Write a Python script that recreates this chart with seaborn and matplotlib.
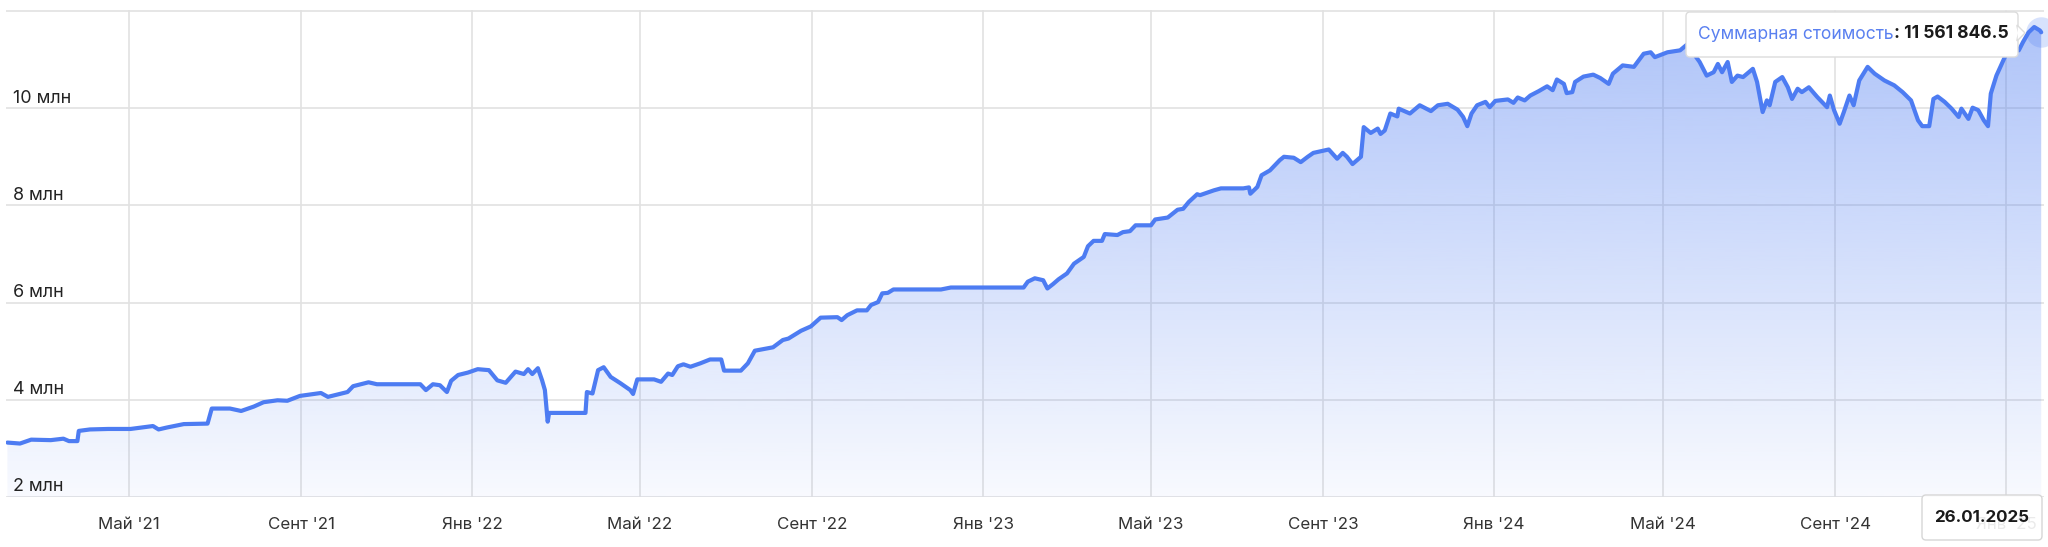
import matplotlib
matplotlib.use("Agg")
import matplotlib.pyplot as plt
import matplotlib.dates as mdates
import matplotlib.colors as mcolors
import matplotlib.transforms as mtransforms
from matplotlib.patches import FancyBboxPatch, Polygon
import numpy as np
import pandas as pd
import seaborn as sns

# -----------------------------------
# Data (million RUB)
# -----------------------------------
dates = [
    "2021-02-03", "2021-02-12", "2021-02-20", "2021-03-06", "2021-03-15", "2021-03-19",
    "2021-03-25", "2021-03-26", "2021-04-03", "2021-04-16", "2021-05-02", "2021-05-18",
    "2021-05-22", "2021-05-28", "2021-06-09", "2021-06-26", "2021-06-29", "2021-07-12",
    "2021-07-20", "2021-07-29", "2021-08-05", "2021-08-15", "2021-08-22", "2021-08-31",
    "2021-09-15", "2021-09-20", "2021-10-04", "2021-10-08", "2021-10-19", "2021-10-25",
    "2021-11-11", "2021-11-25", "2021-11-29", "2021-12-04", "2021-12-09", "2021-12-14",
    "2021-12-17", "2021-12-22", "2021-12-29", "2022-01-05", "2022-01-13", "2022-01-19",
    "2022-01-25", "2022-02-01", "2022-02-07", "2022-02-10", "2022-02-13", "2022-02-17",
    "2022-02-20", "2022-02-22", "2022-02-24", "2022-02-25", "2022-03-23", "2022-03-24",
    "2022-03-28", "2022-04-01", "2022-04-05", "2022-04-10", "2022-04-17", "2022-04-24",
    "2022-04-26", "2022-04-29", "2022-05-11", "2022-05-16", "2022-05-21", "2022-05-24",
    "2022-05-28", "2022-06-01", "2022-06-06", "2022-06-13", "2022-06-20", "2022-06-28",
    "2022-06-30", "2022-07-12", "2022-07-17", "2022-07-22", "2022-07-31", "2022-08-04",
    "2022-08-11", "2022-08-15", "2022-08-24", "2022-08-31", "2022-09-07", "2022-09-19",
    "2022-09-22", "2022-09-26", "2022-10-03", "2022-10-10", "2022-10-13", "2022-10-18",
    "2022-10-21", "2022-10-25", "2022-10-29", "2022-12-02", "2022-12-09", "2023-01-30",
    "2023-02-02", "2023-02-07", "2023-02-13", "2023-02-16", "2023-02-20", "2023-02-24",
    "2023-03-02", "2023-03-07", "2023-03-14", "2023-03-17", "2023-03-21", "2023-03-27",
    "2023-03-29", "2023-04-07", "2023-04-11", "2023-04-16", "2023-04-20", "2023-05-01",
    "2023-05-04", "2023-05-13", "2023-05-20", "2023-05-24", "2023-05-28", "2023-06-03",
    "2023-06-05", "2023-06-15", "2023-06-20", "2023-07-06", "2023-07-10", "2023-07-11",
    "2023-07-16", "2023-07-19", "2023-07-25", "2023-08-01", "2023-08-04", "2023-08-11",
    "2023-08-16", "2023-08-21", "2023-08-25", "2023-09-05", "2023-09-11", "2023-09-15",
    "2023-09-18", "2023-09-22", "2023-09-28", "2023-09-30", "2023-10-05", "2023-10-10",
    "2023-10-12", "2023-10-15", "2023-10-19", "2023-10-24", "2023-10-25", "2023-11-02",
    "2023-11-09", "2023-11-17", "2023-11-22", "2023-11-29", "2023-12-06", "2023-12-10",
    "2023-12-13", "2023-12-16", "2023-12-20", "2023-12-26", "2023-12-29", "2024-01-02",
    "2024-01-11", "2024-01-15", "2024-01-18", "2024-01-23", "2024-01-27", "2024-02-02",
    "2024-02-08", "2024-02-12", "2024-02-15", "2024-02-20", "2024-02-22", "2024-02-26",
    "2024-02-28", "2024-03-05", "2024-03-12", "2024-03-17", "2024-03-23", "2024-03-26",
    "2024-04-02", "2024-04-10", "2024-04-17", "2024-04-22", "2024-04-25", "2024-05-04",
    "2024-05-13", "2024-05-18", "2024-05-22", "2024-05-27", "2024-06-01", "2024-06-06",
    "2024-06-09", "2024-06-12", "2024-06-16", "2024-06-19", "2024-06-23", "2024-06-27",
    "2024-07-04", "2024-07-07", "2024-07-11", "2024-07-14", "2024-07-16", "2024-07-20",
    "2024-07-25", "2024-07-29", "2024-08-01", "2024-08-05", "2024-08-08", "2024-08-13",
    "2024-08-19", "2024-08-26", "2024-08-28", "2024-08-31", "2024-09-04", "2024-09-07",
    "2024-09-11", "2024-09-14", "2024-09-18", "2024-09-24", "2024-09-29", "2024-10-06",
    "2024-10-13", "2024-10-19", "2024-10-25", "2024-10-30", "2024-11-02", "2024-11-07",
    "2024-11-10", "2024-11-13", "2024-11-18", "2024-11-23", "2024-11-28", "2024-11-30",
    "2024-12-05", "2024-12-08", "2024-12-12", "2024-12-16", "2024-12-19", "2024-12-21",
    "2024-12-25", "2024-12-31", "2025-01-03", "2025-01-10", "2025-01-13", "2025-01-17",
    "2025-01-21", "2025-01-25", "2025-01-26",
]
values_mln = [
    3.12, 3.10, 3.18, 3.17, 3.20, 3.15,
    3.15, 3.36, 3.39, 3.40, 3.40, 3.46,
    3.39, 3.43, 3.50, 3.51, 3.82, 3.82,
    3.77, 3.86, 3.95, 3.99, 3.98, 4.08,
    4.14, 4.06, 4.16, 4.28, 4.36, 4.32,
    4.32, 4.32, 4.20, 4.32, 4.30, 4.16,
    4.39, 4.51, 4.56, 4.63, 4.61, 4.40,
    4.35, 4.58, 4.53, 4.63, 4.53, 4.65,
    4.40, 4.20, 3.55, 3.73, 3.73, 4.16,
    4.13, 4.61, 4.67, 4.47, 4.34, 4.20,
    4.12, 4.42, 4.42, 4.37, 4.54, 4.51,
    4.69, 4.73, 4.68, 4.75, 4.83, 4.83,
    4.60, 4.60, 4.75, 5.01, 5.06, 5.08,
    5.23, 5.26, 5.42, 5.51, 5.69, 5.70,
    5.64, 5.74, 5.84, 5.84, 5.95, 6.01,
    6.19, 6.20, 6.27, 6.27, 6.31, 6.31,
    6.43, 6.50, 6.46, 6.29, 6.38, 6.48,
    6.60, 6.80, 6.94, 7.16, 7.27, 7.27,
    7.41, 7.39, 7.45, 7.47, 7.59, 7.59,
    7.71, 7.75, 7.91, 7.93, 8.07, 8.23,
    8.21, 8.31, 8.35, 8.35, 8.37, 8.24,
    8.38, 8.62, 8.72, 8.93, 9.00, 8.98,
    8.89, 9.00, 9.08, 9.15, 8.96, 9.08,
    9.00, 8.85, 9.00, 9.61, 9.49, 9.58,
    9.47, 9.54, 9.89, 9.83, 9.99, 9.89,
    10.06, 9.94, 10.06, 10.09, 9.97, 9.82,
    9.63, 9.89, 10.06, 10.13, 10.02, 10.15,
    10.18, 10.11, 10.22, 10.16, 10.26, 10.35,
    10.45, 10.37, 10.59, 10.50, 10.31, 10.33,
    10.54, 10.65, 10.69, 10.62, 10.50, 10.71,
    10.88, 10.85, 11.12, 11.15, 11.05, 11.15,
    11.19, 11.31, 11.15, 10.95, 10.67, 10.74,
    10.91, 10.74, 10.95, 10.54, 10.67, 10.64,
    10.81, 10.54, 9.92, 10.16, 10.06, 10.54,
    10.64, 10.43, 10.19, 10.40, 10.33, 10.43,
    10.23, 10.02, 10.26, 9.96, 9.68, 9.92,
    10.26, 10.06, 10.57, 10.85, 10.71, 10.57,
    10.47, 10.33, 10.16, 9.75, 9.63, 9.63,
    10.19, 10.24, 10.13, 9.99, 9.82, 9.99,
    9.78, 10.01, 9.96, 9.75, 9.63, 10.30,
    10.67, 11.05, 11.22, 11.19, 11.36, 11.56,
    11.67, 11.60, 11.5618465,
]

tick_dates = [
    "2021-05-01", "2021-09-01", "2022-01-01", "2022-05-01", "2022-09-01", "2023-01-01",
    "2023-05-01", "2023-09-01", "2024-01-01", "2024-05-01", "2024-09-01", "2025-01-01",
]
tick_labels = [
    "Май '21", "Сент '21", "Янв '22", "Май '22", "Сент '22", "Янв '23",
    "Май '23", "Сент '23", "Янв '24", "Май '24", "Сент '24", "Янв '25",
]
y_ticks = [2, 4, 6, 8, 10, 12]
y_tick_labels = ["2 млн", "4 млн", "6 млн", "8 млн", "10 млн", ""]

tooltip_name = "Суммарная стоимость"
tooltip_value = "11 561 846.5"
hover_date_label = "26.01.2025"

df = pd.DataFrame({"date": pd.to_datetime(dates), "value": values_mln})

# -----------------------------------
# Style
# -----------------------------------
sns.set_theme(style="white")
plt.rcParams["font.family"] = ["Inter", "DejaVu Sans"]

LINE = "#4d7cf2"
GRID = "#e2e2e2"
W, H = 2048, 547

fig = plt.figure(figsize=(W / 100, H / 100), dpi=100)
ax = fig.add_axes([6 / W, 1 - 497 / H, (2044 - 6) / W, (497 - 10) / H])

# -----------------------------------
# Line + gradient area
# -----------------------------------
sns.lineplot(data=df, x="date", y="value", ax=ax, color=LINE, lw=3.0, zorder=3)

y_lo, y_hi = 2, 12.02
x0 = mdates.date2num(df["date"].iloc[0] - pd.Timedelta(days=1))
x1 = mdates.date2num(df["date"].iloc[-1] + pd.Timedelta(days=2))

area = ax.fill_between(df["date"], df["value"], y_lo, color="none", lw=0)
grad = np.zeros((256, 1, 4))
grad[..., :3] = mcolors.to_rgb(LINE)
grad[..., 3] = np.linspace(0.46, 0.04, 256)[:, None]
img = ax.imshow(grad, aspect="auto", extent=[x0, x1, y_lo, y_hi],
                origin="upper", zorder=1, interpolation="bicubic")
img.set_clip_path(area.get_paths()[0], ax.transData)

# hover halo on last point
ax.scatter(df["date"].iloc[-1], df["value"].iloc[-1], s=480, color=LINE,
           alpha=0.22, lw=0, zorder=4, clip_on=False)

ax.set_xlim(x0, x1)
ax.set_ylim(y_lo, y_hi)

# -----------------------------------
# Axes, grid, ticks
# -----------------------------------
for s in ax.spines.values():
    s.set_visible(False)

ax.set_xticks(pd.to_datetime(tick_dates))
ax.set_xticklabels(tick_labels)
ax.set_yticks(y_ticks)
ax.set_yticklabels([])
ax.grid(True, color=GRID, lw=1.2, zorder=0)
ax.set_axisbelow(True)
ax.tick_params(axis="x", length=11.5, width=1.2, color=GRID, pad=3,
               labelsize=12.2, labelcolor="#333333")
ax.tick_params(axis="y", length=0)
ax.set_xlabel("")
ax.set_ylabel("")

ylab_tr = mtransforms.offset_copy(ax.get_yaxis_transform(), fig=fig, y=4.0, units="points")
for v, lab in zip(y_ticks, y_tick_labels):
    ax.text(0.0034, v, lab, transform=ylab_tr, ha="left", va="baseline",
            fontsize=12.9, color="#222222")

# -----------------------------------
# Tooltip (pixel coords)
# -----------------------------------
ident = mtransforms.IdentityTransform()


def px_y(y_top):
    return H - y_top


tip = FancyBboxPatch((1686, px_y(57)), 2018 - 1686, 45,
                     boxstyle="round,pad=0,rounding_size=4",
                     fc="white", ec="#dcdcdc", lw=1.0, transform=ident, zorder=10)
fig.add_artist(tip)
arrow = Polygon([(2017, px_y(25)), (2025, px_y(33)), (2017, px_y(41))], closed=True,
                fc="white", ec="#dcdcdc", lw=1.0, transform=ident, zorder=10)
fig.add_artist(arrow)
fig.add_artist(Polygon([(2016, px_y(26)), (2016, px_y(40)), (2018, px_y(33))],
                       closed=True, fc="white", ec="none", transform=ident, zorder=11))

t1 = fig.text(1698 / W, px_y(34) / H, tooltip_name, color="#5a80f0",
              fontsize=12.6, va="center", ha="left", zorder=12)
fig.canvas.draw()
bb = t1.get_window_extent()
fig.text(bb.x1 / W, px_y(34) / H, ": " + tooltip_value, color="#1a1a1a",
         fontsize=12.6, fontweight="bold", va="center", ha="left", zorder=12)

# date box at the bottom right, covering the last month label as in the app
dbox = FancyBboxPatch((1922, px_y(540)), 2042 - 1922, 45,
                      boxstyle="round,pad=0,rounding_size=4",
                      fc=(1, 1, 1, 0.9), ec="#d6d6d6", lw=1.0, transform=ident, zorder=10)
fig.add_artist(dbox)
fig.text(1982 / W, px_y(518) / H, hover_date_label, color="#1a1a1a",
         fontsize=12.2, fontweight="bold", va="center", ha="center", zorder=12)

# -----------------------------------
# Save
# -----------------------------------
fig.savefig("out.png", dpi=100)
